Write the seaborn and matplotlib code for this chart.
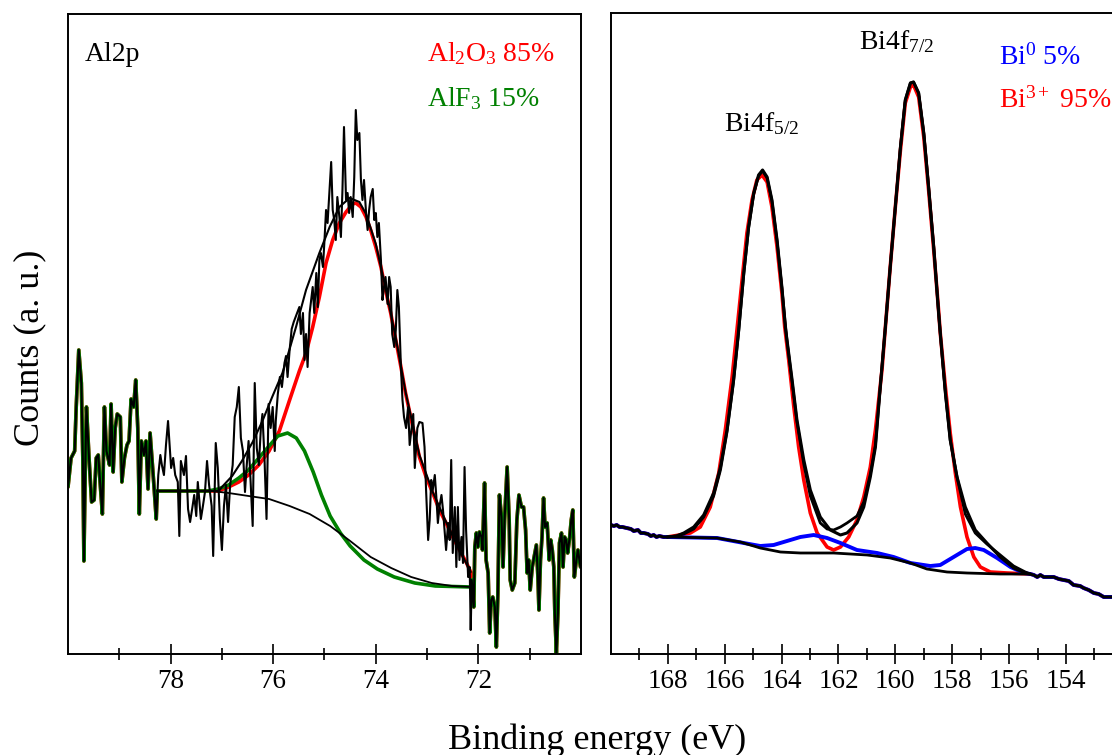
import numpy as np
import matplotlib
matplotlib.use("Agg")
import matplotlib.pyplot as plt
from matplotlib.ticker import FixedLocator
import seaborn as sns

# ---------------- Al2p panel (binding energy eV, counts a.u.) ----------------
al_be = [80.00, 79.94, 79.87, 79.84, 79.79, 79.74, 79.71, 79.69, 79.66, 79.64,
         79.59, 79.54, 79.49, 79.45, 79.41, 79.38, 79.33, 79.29, 79.25, 79.19,
         79.16, 79.12, 79.08, 79.04, 78.98, 78.95, 78.90, 78.85, 78.81, 78.77,
         78.72, 78.68, 78.64, 78.61, 78.57, 78.52, 78.48, 78.44, 78.40, 78.36,
         78.32, 78.28, 78.24, 78.20, 78.17, 78.13, 78.09, 78.05, 77.99, 77.95,
         77.91, 77.86, 77.83, 77.80, 77.74, 77.70, 77.66, 77.62, 77.58, 77.54,
         77.50, 77.47, 77.41, 77.37, 77.33, 77.29, 77.25, 77.20, 77.17, 77.12,
         77.08, 77.04, 77.00, 76.96, 76.92, 76.88, 76.84, 76.79, 76.75, 76.71,
         76.67, 76.63, 76.59, 76.55, 76.52, 76.48, 76.44, 76.40, 76.36, 76.32,
         76.28, 76.24, 76.21, 76.17, 76.13, 76.09, 76.05, 76.01, 75.97, 75.95,
         75.91, 75.87, 75.83, 75.78, 75.75, 75.72, 75.68, 75.64, 75.60,
         75.49, 75.46, 75.42, 75.39, 75.36, 75.33, 75.29, 75.26, 75.23, 75.20,
         75.16, 75.13, 75.10, 75.07, 75.03, 75.00, 74.97, 74.94, 74.91, 74.87,
         74.84, 74.81, 74.78, 74.75, 74.71, 74.68, 74.65, 74.62, 74.58, 74.55,
         74.52, 74.49, 74.45, 74.42, 74.39, 74.36, 74.32, 74.29, 74.26, 74.23,
         74.19, 74.16, 74.13, 74.10, 74.06, 74.03, 74.00, 73.97, 73.94, 73.90,
         73.87, 73.84, 73.81, 73.77, 73.74, 73.71, 73.68, 73.64, 73.61, 73.58,
         73.55, 73.51, 73.48, 73.45, 73.41, 73.37, 73.34, 73.27, 73.24, 73.19,
         73.15, 73.09, 73.05, 73.02, 72.98, 72.95, 72.92, 72.89, 72.85, 72.82,
         72.79, 72.76, 72.72, 72.69, 72.66, 72.63, 72.59, 72.56, 72.53, 72.50,
         72.46, 72.43, 72.40, 72.37, 72.33, 72.30, 72.27, 72.24, 72.20, 72.17,
         72.15, 72.13, 72.09, 72.07, 72.04, 72.01, 71.98, 71.94, 71.92, 71.88,
         71.85, 71.81, 71.78, 71.75, 71.72, 71.68, 71.65, 71.62, 71.59, 71.55,
         71.52, 71.49, 71.44, 71.40, 71.38, 71.34, 71.29, 71.25, 71.21, 71.16,
         71.12, 71.08, 71.05, 71.02, 70.99, 70.95, 70.90, 70.87, 70.84, 70.82,
         70.79, 70.76, 70.73, 70.70, 70.66, 70.62, 70.59, 70.56, 70.53, 70.51,
         70.48, 70.45, 70.42, 70.38, 70.35, 70.32, 70.29, 70.26, 70.22, 70.19,
         70.16, 70.13, 70.09, 70.06, 70.01]
al_counts = [167, 196, 203, 247, 304, 271, 193, 93, 196, 247,
             196, 152, 154, 196, 199, 176, 140, 247, 203, 189,
             250, 182, 226, 240, 237, 172, 196, 209, 213, 255,
             247, 274, 226, 140, 213, 199, 213, 165, 221, 193,
             165, 135, 179, 199, 189, 179, 209, 233, 186, 196,
             179, 172, 118, 193, 179, 198, 145, 132, 145, 159,
             138, 172, 135, 148, 162, 193, 169, 148, 98, 211,
             186, 135, 104, 148, 169, 132, 169, 189, 237, 247,
             267, 216, 203, 162, 186, 213, 172, 128, 271, 206,
             189, 226, 240, 196, 135, 250, 226, 247, 203, 233,
             260, 277, 267, 291, 298, 277, 304, 325, 332,
             347, 320, 341, 294, 320, 287, 341, 354, 367, 341,
             381, 347, 394, 401, 387, 414, 444, 431, 457, 492,
             444, 434, 414, 457, 437, 417, 464, 527, 454, 461,
             441, 457, 437, 477, 544, 514, 521, 474, 454, 474,
             441, 424, 444, 457, 465, 434, 441, 417, 431, 394,
             354, 367, 377, 350, 377, 367, 320, 307, 324, 364,
             347, 287, 254, 237, 226, 247, 209, 240, 186, 226,
             232, 231, 207, 164, 114, 134, 174, 164, 179, 157,
             131, 147, 159, 144, 124, 104, 131, 114, 194, 101,
             147, 87, 147, 94, 117, 91, 187, 124, 77, 87,
             24, 74, 47, 107, 121, 107, 122, 117, 104, 171,
             94, 81, 21, 54, 57, 47, 7, 61, 159, 137,
             87, 134, 187, 134, 74, 64, 71, 134, 159, 147,
             147, 124, 81, 94, 64, 87, 101, 109, 77, 44,
             94, 117, 156, 127, 131, 94, 114, 104, 87, 41,
             1, 41, 111, 121, 87, 117, 114, 101, 117, 134,
             144, 77, 94, 104, 87]

# Shirley-type background
al_bg_be = [78.26, 77.20, 76.87, 76.48, 76.08, 75.68, 75.29, 74.89, 74.50,
            74.10, 73.70, 73.31, 72.91, 72.51, 72.15]
al_bg = [163, 163, 161, 158, 155, 148, 140, 128, 113, 97, 86, 77, 71, 68, 67]

# AlF3 component (green)
al_f_be = [78.26, 77.27, 77.07, 76.87, 76.67, 76.48, 76.28, 76.08, 75.91, 75.72,
           75.55, 75.39, 75.22, 75.06, 74.89, 74.69, 74.50, 74.23, 73.97, 73.64,
           73.24, 72.84, 72.15]
al_f = [163, 163, 165, 169, 176, 184, 196, 208, 218, 221,
        216, 203, 182, 159, 138, 121, 108, 94, 85, 77,
        71, 68, 67]

# Al2O3 component (red)
al_o_be = [78.26, 77.07, 76.87, 76.67, 76.48, 76.28, 76.08, 75.88, 75.68, 75.49,
           75.36, 75.23, 75.10, 74.97, 74.84, 74.71, 74.58, 74.45, 74.39, 74.29,
           74.19, 74.10, 74.00, 73.90, 73.81, 73.71, 73.61, 73.51, 73.42, 73.32,
           73.15, 73.02, 72.89, 72.76, 72.63, 72.50, 72.37, 72.24, 72.15]
al_o = [163, 163, 167, 172, 179, 189, 203, 223, 254, 283,
        301, 327, 357, 391, 414, 431, 442, 450, 451, 447,
        437, 424, 407, 387, 364, 341, 314, 287, 261, 237,
        197, 177, 161, 144, 131, 117, 104, 92, 82]

# fitted envelope
al_env_be = [78.26, 77.06, 77.00, 76.80, 76.61, 76.40, 76.21, 76.02, 75.82, 75.68,
             75.55, 75.36, 75.10, 74.90, 74.71, 74.51, 74.32, 74.19, 74.00, 73.81,
             73.61, 73.42, 73.15, 72.89, 72.63, 72.37, 72.15]
al_env = [163, 163, 167, 178, 193, 212, 233, 257, 281, 305,
          328, 364, 401, 427, 447, 456, 452, 440, 410, 366,
          316, 262, 199, 162, 132, 104, 82]

al_major = [78, 76, 74, 72]
al_minor = [79, 77, 75, 73, 71]

# ---------------- Bi4f panel ----------------
bi_be = [170.00, 169.90, 169.80, 169.70, 169.60, 169.45, 169.30, 169.20, 169.05, 168.95,
         168.85, 168.70, 168.60, 168.50, 168.40, 168.30, 168.15, 168.03, 167.70, 167.44,
         167.09, 166.74, 166.39, 166.15, 165.92, 165.69, 165.51, 165.33, 165.16, 164.98,
         164.81, 164.67, 164.51, 164.34, 164.16, 163.99, 163.87, 163.81, 163.63, 163.46,
         163.22, 162.99, 162.64, 162.29, 161.93, 161.70, 161.35, 161.11, 160.88, 160.70,
         160.53, 160.35, 160.18, 160.00, 159.82, 159.65, 159.47, 159.36, 159.18, 159.00,
         158.83, 158.65, 158.48, 158.42, 158.24, 158.07, 157.83, 157.54, 157.19, 156.78,
         156.31, 155.84, 155.43, 155.13, 155.01, 154.90, 154.78, 154.55, 154.43, 154.25,
         154.08, 153.90, 153.73, 153.50, 153.38, 153.20, 153.02, 152.85, 152.67, 152.37]
bi_counts = [129, 128, 129, 127, 127, 126, 125, 123, 124, 121,
             121, 120, 118, 119, 117, 118, 117, 117, 118, 121,
             127, 139, 161, 187, 224, 274, 324, 381, 427, 461,
             479, 484, 477, 454, 414, 367, 327, 314, 274, 234,
             194, 164, 137, 124, 119, 121, 131, 147, 177, 207,
             267, 327, 387, 447, 507, 554, 571, 572, 561, 521,
             467, 407, 342, 321, 261, 214, 177, 147, 124, 111,
             97, 86, 81, 79, 77, 79, 77, 77, 77, 75,
             74, 73, 69, 68, 66, 64, 61, 60, 57, 57]

bi_bg_be = [168.03, 166.27, 165.45, 164.75, 164.04, 163.34, 162.17, 160.99, 160.18,
            159.47, 158.89, 158.18, 157.48, 156.31, 155.25]
bi_bg = [117, 116, 112, 106, 102, 101, 101, 99, 96, 91, 85, 82, 81, 80, 80]

# Bi0 component (blue)
bi_m_be = [168.03, 166.27, 165.33, 164.75, 164.28, 163.81, 163.34, 162.87, 162.40,
           161.93, 161.35, 160.64, 160.06, 159.47, 158.77, 158.42, 157.95, 157.48,
           157.19, 156.89, 156.42, 155.95, 155.48, 155.25]
bi_m = [117, 116, 111, 108, 109, 113, 117, 119, 116,
        111, 104, 101, 97, 91, 88, 89, 97, 105,
        106, 104, 96, 87, 81, 80]

# Bi3+ component (red)
bi_o_be = [168.03, 167.80, 167.21, 166.86, 166.51, 166.21, 165.98, 165.74, 165.57, 165.39,
           165.22, 165.04, 164.87, 164.69, 164.51, 164.34, 164.16, 163.99, 163.89, 163.75,
           163.57, 163.40, 163.22, 162.99, 162.75, 162.40, 162.17, 161.93, 161.64, 161.35,
           161.11, 160.88, 160.70, 160.47, 160.35, 160.18, 160.00, 159.82, 159.65, 159.47,
           159.36, 159.18, 159.00, 158.83, 158.65, 158.48, 158.42, 158.24, 158.07, 157.89,
           157.71, 157.48, 157.24, 157.01, 156.66, 156.07, 155.25]
bi_o = [117, 118, 121, 127, 147, 181, 224, 277, 324, 374,
        421, 454, 474, 479, 472, 447, 407, 361, 327, 294,
        247, 207, 174, 141, 121, 107, 104, 107, 117, 134,
        157, 187, 224, 284, 327, 387, 447, 504, 551, 567,
        569, 557, 517, 464, 404, 344, 321, 267, 221, 181,
        147, 117, 97, 87, 82, 81, 80]

bi_env_be = [168.03, 167.70, 167.44, 167.09, 166.74, 166.39, 166.15, 165.92, 165.69, 165.51,
             165.33, 165.16, 164.98, 164.81, 164.67, 164.51, 164.34, 164.16, 163.99, 163.81,
             163.63, 163.46, 163.22, 162.99, 162.64, 162.40, 162.17, 161.93, 161.70, 161.35,
             161.11, 160.88, 160.70, 160.53, 160.35, 160.18, 160.00, 159.82, 159.65, 159.47,
             159.36, 159.18, 159.00, 158.83, 158.65, 158.48, 158.42, 158.24, 158.07, 157.83,
             157.54, 157.19, 156.78, 156.31, 155.84, 155.43, 155.25]
bi_env = [117, 118, 120, 125, 137, 158, 184, 222, 272, 322,
          380, 426, 460, 478, 483, 476, 453, 413, 366, 313,
          272, 232, 190, 158, 131, 125, 124, 127, 131, 138,
          152, 180, 209, 267, 327, 387, 447, 507, 554, 571,
          572, 561, 521, 467, 407, 342, 321, 261, 214, 177,
          140, 121, 110, 99, 88, 82, 80]

bi_major = [168, 166, 164, 162, 160, 158, 156, 154]
bi_minor = [169, 167, 165, 163, 161, 159, 157, 155, 153]


def with_raw(be, counts, fit_be, fit_y, hi, lo):
    # outside the fitting window the exported components follow the raw data
    be = np.asarray(be)
    counts = np.asarray(counts)
    x = np.concatenate([be[be > hi], fit_be, be[be < lo]])
    y = np.concatenate([counts[be > hi], fit_y, counts[be < lo]])
    return x, y


def trace(ax, x, y, color, lw):
    sns.lineplot(x=x, y=y, ax=ax, color=color, lw=lw, sort=False,
                 estimator=None, legend=False)


sns.set_theme(style="white")
plt.rcParams["font.family"] = ["Liberation Serif", "DejaVu Serif"]
plt.rcParams["mathtext.fontset"] = "custom"
plt.rcParams["mathtext.rm"] = "Liberation Serif"
plt.rcParams["mathtext.it"] = "Liberation Serif:italic"
plt.rcParams["mathtext.bf"] = "Liberation Serif:bold"
plt.rcParams["text.color"] = "black"
plt.rcParams["xtick.color"] = "black"

RED, GREEN, BLUE = "#ff0000", "#008000", "#0000ff"

fig = plt.figure(figsize=(11.12, 7.55), dpi=100)
ax1 = fig.add_axes([68 / 1112, 101 / 755, 513 / 1112, 640 / 755])
ax2 = fig.add_axes([611 / 1112, 101 / 755, 501 / 1112, 641 / 755])

# left panel
gx, gy = with_raw(al_be, al_counts, al_f_be, al_f, 78.27, 72.14)
rx, ry = with_raw(al_be, al_counts, al_o_be, al_o, 78.27, 72.14)
trace(ax1, rx, ry, RED, 2.6)
trace(ax1, gx, gy, GREEN, 2.6)
trace(ax1, al_bg_be, al_bg, "black", 1.3)
trace(ax1, al_env_be, al_env, "black", 1.5)
trace(ax1, al_be, al_counts, "black", 1.5)
ax1.set_xlim(80, 70)
ax1.set_ylim(0, 640)
ax1.xaxis.set_major_locator(FixedLocator(al_major))
ax1.xaxis.set_minor_locator(FixedLocator(al_minor))

# right panel
bx, by = with_raw(bi_be, bi_counts, bi_m_be, bi_m, 168.04, 155.24)
ox, oy = with_raw(bi_be, bi_counts, bi_o_be, bi_o, 168.04, 155.24)
trace(ax2, ox, oy, RED, 2.6)
trace(ax2, bx, by, BLUE, 2.8)
trace(ax2, bi_bg_be, bi_bg, "black", 2.0)
trace(ax2, bi_env_be, bi_env, "black", 2.0)
trace(ax2, bi_be, bi_counts, "black", 2.2)
ax2.set_xlim(170, 152.38)
ax2.set_ylim(0, 641)
ax2.xaxis.set_major_locator(FixedLocator(bi_major))
ax2.xaxis.set_minor_locator(FixedLocator(bi_minor))
ax2.spines["right"].set_visible(False)

for ax in (ax1, ax2):
    ax.set_xlabel("")
    ax.set_ylabel("")
    ax.set_yticks([])
    for s in ax.spines.values():
        s.set_color("black")
        s.set_linewidth(1.4)
    ax.tick_params(axis="x", which="major", direction="inout", length=14, width=1.2,
                   bottom=True, labelsize=19.5, pad=4, colors="black")
    ax.tick_params(axis="x", which="minor", direction="inout", length=8, width=1.2,
                   bottom=True, colors="black")

# annotations
ax1.text(0.033, 0.927, "Al2p", transform=ax1.transAxes, fontsize=20, va="baseline")
ax1.text(0.70, 0.927, "Al$_2$O$_3$ 85%", transform=ax1.transAxes, fontsize=20,
         va="baseline", color=RED)
ax1.text(0.70, 0.856, "AlF$_3$ 15%", transform=ax1.transAxes, fontsize=20,
         va="baseline", color=GREEN)

ax2.text(0.495, 0.944, "Bi4f$_{7/2}$", transform=ax2.transAxes, fontsize=20, va="baseline")
ax2.text(0.2255, 0.816, "Bi4f$_{5/2}$", transform=ax2.transAxes, fontsize=20, va="baseline")
ax2.text(0.774, 0.919, "Bi$^0$ 5%", transform=ax2.transAxes, fontsize=20,
         va="baseline", color=BLUE)
ax2.text(0.774, 0.853, "Bi$^{3+}$ 95%", transform=ax2.transAxes, fontsize=20,
         va="baseline", color=RED)

fig.text(597 / 1112, 0.008, "Binding energy (eV)", fontsize=26, ha="center", va="baseline",
         color="black")
fig.text(30 / 1112, (755 - 348) / 755, "Counts (a. u.)", fontsize=26, rotation=90,
         ha="center", va="center", color="black")

fig.savefig("out.png", dpi=100)
